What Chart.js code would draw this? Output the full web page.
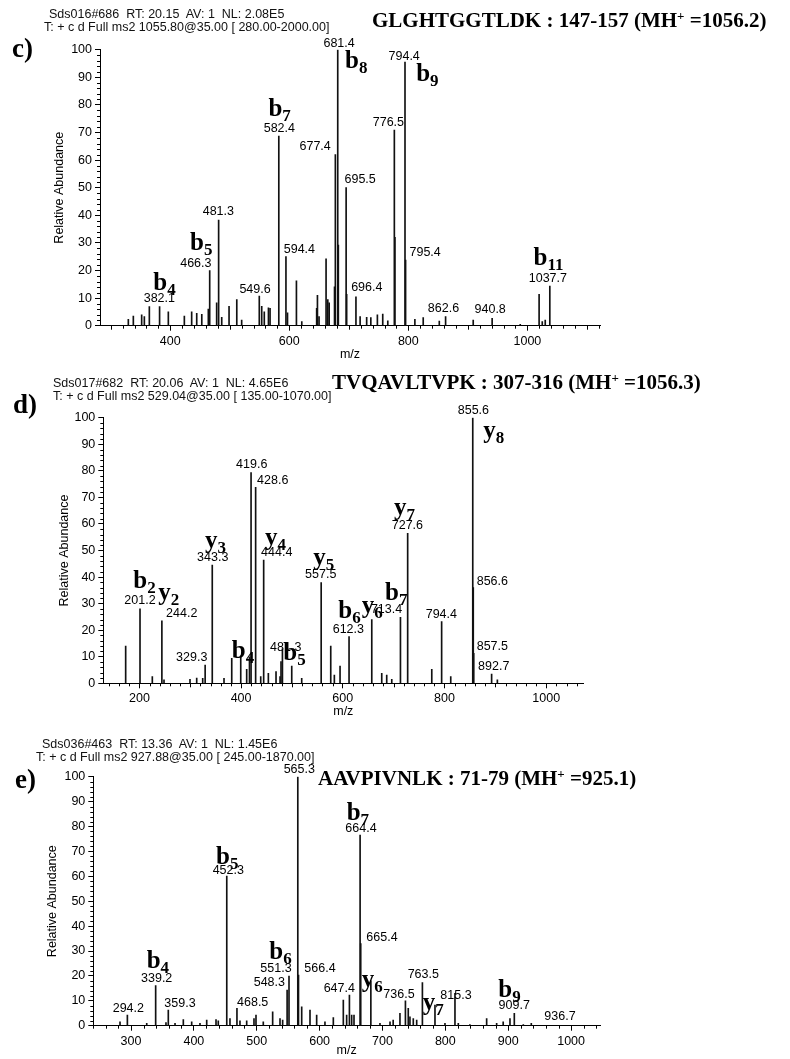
<!DOCTYPE html>
<html>
<head>
<meta charset="utf-8">
<script src="https://cdn.jsdelivr.net/npm/chart.js@4.4.1/dist/chart.umd.min.js"></script>
<style>
body{margin:0;background:#fff;width:790px;height:1059px;position:relative;overflow:hidden}
canvas{position:absolute;left:0}
.t{position:absolute;font-family:"Liberation Sans",Arial,sans-serif;font-size:12.5px;line-height:14px;white-space:pre;color:#111}
.pep{position:absolute;font-family:"Liberation Serif","Times New Roman",serif;font-weight:bold;font-size:21px;line-height:24px;white-space:pre;color:#000}
.pep sup{font-size:13px;vertical-align:7px;line-height:0}
.let{position:absolute;font-family:"Liberation Serif","Times New Roman",serif;font-weight:bold;font-size:27px;line-height:30px}
</style>
</head>
<body>
<canvas id="specC" width="790" height="370" style="top:0px"></canvas>
<canvas id="specD" width="790" height="355" style="top:365px"></canvas>
<canvas id="specE" width="790" height="339" style="top:720px"></canvas>

<div class="t" style="left:49px;top:7px">Sds016#686  RT: 20.15  AV: 1  NL: 2.08E5</div>
<div class="t" style="left:44px;top:20px">T: + c d Full ms2 1055.80@35.00 [ 280.00-2000.00]</div>
<div class="pep" style="left:372px;top:8px">GLGHTGGTLDK : 147-157 (MH<sup>+</sup> =1056.2)</div>
<div class="let" style="left:12px;top:33px">c)</div>

<div class="t" style="left:53px;top:376px">Sds017#682  RT: 20.06  AV: 1  NL: 4.65E6</div>
<div class="t" style="left:53px;top:389px">T: + c d Full ms2 529.04@35.00 [ 135.00-1070.00]</div>
<div class="pep" style="left:332px;top:370px">TVQAVLTVPK : 307-316 (MH<sup>+</sup> =1056.3)</div>
<div class="let" style="left:13px;top:389px">d)</div>

<div class="t" style="left:42px;top:737px">Sds036#463  RT: 13.36  AV: 1  NL: 1.45E6</div>
<div class="t" style="left:36px;top:750px">T: + c d Full ms2 927.88@35.00 [ 245.00-1870.00]</div>
<div class="pep" style="left:318px;top:766px">AAVPIVNLK : 71-79 (MH<sup>+</sup> =925.1)</div>
<div class="let" style="left:15px;top:764px">e)</div>

<script>
// relative abundance axis, shared by the three spectra
const yTicks = [0, 10, 20, 30, 40, 50, 60, 70, 80, 90, 100]

// c) GLGHTGGTLDK
const cMz = [329.6, 338, 352, 356.5, 364.9, 382.1, 396.8, 423.7, 436, 444.5, 453, 464, 466.3, 478, 481.3, 486.5, 498.8, 511.8, 520, 549.6, 553.7, 558, 565, 567.7, 582.4, 594.4, 597, 612, 621, 646, 647.3, 650, 661.8, 664.7, 667, 676, 677.4, 681.4, 682.4, 695.5, 696.4, 712, 719, 730, 737, 748, 757, 765.5, 776.5, 777.5, 794.4, 795.4, 811, 825, 852, 862.6, 909, 940.8, 988, 1019.7, 1025, 1030, 1037.7]
const cInt = [2.3, 3.5, 3.9, 3.3, 6.9, 6.9, 5, 3.5, 5, 4.5, 4.1, 6, 20, 8.3, 38.3, 3, 7, 9.5, 2, 10.7, 7, 5, 6.5, 6.3, 68.7, 25, 4.7, 16.3, 1.5, 6.3, 11, 3.3, 24.2, 9.5, 8.3, 14.1, 62, 100, 29.2, 50, 11.4, 10.5, 3.3, 3, 2.9, 3.9, 4.2, 1.8, 70.9, 32, 95.5, 23.8, 2.3, 2.9, 1.7, 3.3, 2, 2.7, 0.5, 11.4, 1.5, 2, 14.4]
const cTicks = [400, 600, 800, 1000]

// d) TVQAVLTVPK
const dMz = [173, 201.2, 225.4, 244.2, 248.4, 299.5, 312.7, 324.5, 329.3, 343.3, 366.4, 381.6, 399.3, 411, 416.5, 419.6, 428.6, 438.6, 444.4, 453.6, 468.7, 476.6, 478.5, 481.3, 499.6, 519.2, 557.5, 576.3, 583.4, 594.6, 612.3, 657, 676.6, 686.4, 696.3, 713.4, 727.6, 775, 794.4, 812.3, 855.6, 856.6, 857.5, 892.7, 904]
const dInt = [14, 28, 2.5, 23.5, 1.3, 1.5, 2, 1.9, 6.9, 44.5, 1.9, 9.4, 10.3, 5.3, 10, 79.3, 73.8, 2.5, 46.4, 3.8, 4.4, 2.5, 8.2, 13, 6.5, 1.9, 37.9, 14, 3.1, 6.5, 17.6, 24, 3.8, 3.1, 1.5, 24.8, 56.5, 5.3, 23.2, 2.5, 100, 36, 11.3, 3.5, 1.3]
const dTicks = [200, 400, 600, 800, 1000]

// e) AAVPIVNLK
const eMz = [282.5, 294.2, 325, 339.2, 355.6, 359.3, 370, 383.2, 396.5, 409.7, 420.4, 435.2, 438.8, 452.3, 457.4, 468.5, 473.3, 484, 495.6, 498.8, 510.4, 525.3, 537, 541.2, 548.3, 551.3, 565.3, 566.4, 571.5, 584.7, 595.3, 608.5, 621.8, 637.7, 643, 647.4, 651, 654.7, 664.4, 665.4, 681.5, 696, 712, 717, 727.8, 736.5, 741, 743.7, 749, 754.4, 763.5, 783.5, 799.4, 815.3, 820.6, 839, 865.7, 881.6, 892, 902.8, 909.7, 924, 936.7]
const eInt = [1.6, 4.3, 1, 16.1, 1.3, 6.3, 1, 2.5, 1.6, 1, 2.3, 2.5, 2, 60.1, 2.9, 7, 2, 2, 2.9, 4.3, 1.6, 5.6, 2.9, 2.3, 14.3, 19.9, 100, 20.3, 7.6, 6.3, 4.3, 1.6, 3.3, 10.3, 4.3, 12.3, 4.3, 4.3, 76.6, 33, 18, 1, 1.6, 2.3, 5, 10, 7, 3.6, 2.9, 2.3, 17.3, 8.3, 1, 13, 1, 0.5, 2.9, 1, 1.6, 2.9, 5, 0.5, 1]
const eTicks = [300, 400, 500, 600, 700, 800, 900, 1000]

// peak annotations, placed in data units (m/z, abundance)
const cNums = [
    { t: '382.1', x: 381.7, y: 9.7 }, { t: '466.3', x: 443, y: 22.6 }, { t: '481.3', x: 480.8, y: 41.3 },
    { t: '549.6', x: 542.5, y: 13.2 }, { t: '582.4', x: 583.3, y: 71.5 }, { t: '594.4', x: 617, y: 27.7 },
    { t: '677.4', x: 643.4, y: 64.9 }, { t: '681.4', x: 683.7, y: 102.4 }, { t: '695.5', x: 719, y: 52.8 },
    { t: '696.4', x: 730.2, y: 13.8 }, { t: '776.5', x: 766.5, y: 73.7 }, { t: '794.4', x: 793, y: 97.4 },
    { t: '795.4', x: 828.2, y: 26.4 }, { t: '862.6', x: 859, y: 6.3 }, { t: '940.8', x: 937.5, y: 5.7 },
    { t: '1037.7', x: 1034.4, y: 17.2 }
]
const cIons = [
    { ion: 'b', n: '4', x: 371.6, y: 12.9 }, { ion: 'b', n: '5', x: 433.3, y: 27.4 },
    { ion: 'b', n: '7', x: 564.9, y: 76 }, { ion: 'b', n: '8', x: 693.8, y: 93.3 },
    { ion: 'b', n: '9', x: 813.1, y: 88.8 }, { ion: 'b', n: '11', x: 1010.3, y: 22 }
]
const dNums = [
    { t: '201.2', x: 201.2, y: 31.1 }, { t: '244.2', x: 283.2, y: 26.1 }, { t: '329.3', x: 302.9, y: 9.8 },
    { t: '343.3', x: 344.2, y: 47.3 }, { t: '419.6', x: 420.9, y: 82.2 }, { t: '428.6', x: 462.2, y: 76.5 },
    { t: '444.4', x: 470, y: 49.3 }, { t: '481.3', x: 487.8, y: 13.6 }, { t: '557.5', x: 556.6, y: 40.8 },
    { t: '612.3', x: 610.9, y: 20.3 }, { t: '713.4', x: 686, y: 27.6 }, { t: '727.6', x: 727, y: 59.3 },
    { t: '794.4', x: 793.8, y: 25.7 }, { t: '855.6', x: 856.8, y: 102.6 }, { t: '856.6', x: 894.1, y: 38.3 },
    { t: '857.5', x: 894.1, y: 13.8 }, { t: '892.7', x: 896.9, y: 6.3 }
]
const dIons = [
    { ion: 'b', n: '2', x: 188, y: 35.8 }, { ion: 'y', n: '2', x: 237.2, y: 31.4 },
    { ion: 'y', n: '3', x: 329, y: 50.8 }, { ion: 'b', n: '4', x: 381.6, y: 9.4 },
    { ion: 'y', n: '4', x: 447, y: 52.1 }, { ion: 'b', n: '5', x: 483, y: 8.8 },
    { ion: 'y', n: '5', x: 542, y: 44.5 }, { ion: 'b', n: '6', x: 591.2, y: 24.5 },
    { ion: 'y', n: '6', x: 637.3, y: 26.4 }, { ion: 'b', n: '7', x: 683, y: 31.4 },
    { ion: 'y', n: '7', x: 700.8, y: 63.4 }, { ion: 'y', n: '8', x: 876.4, y: 92.2 }
]
const eNums = [
    { t: '294.2', x: 295.7, y: 7 }, { t: '339.2', x: 340.8, y: 18.8 }, { t: '359.3', x: 377.9, y: 9 },
    { t: '452.3', x: 454.7, y: 62.5 }, { t: '468.5', x: 493.5, y: 9.4 }, { t: '548.3', x: 520, y: 17.3 },
    { t: '551.3', x: 530.6, y: 22.8 }, { t: '565.3', x: 567.7, y: 102.7 }, { t: '566.4', x: 600.6, y: 23 },
    { t: '647.4', x: 631.3, y: 15 }, { t: '664.4', x: 665.8, y: 79.3 }, { t: '665.4', x: 699.2, y: 35.3 },
    { t: '736.5', x: 726.2, y: 12.6 }, { t: '763.5', x: 764.9, y: 20.4 }, { t: '815.3', x: 816.9, y: 12.3 },
    { t: '909.7', x: 909.6, y: 7.9 }, { t: '936.7', x: 982.3, y: 3.6 }
]
const eIons = [
    { ion: 'b', n: '4', x: 324.9, y: 23 }, { ion: 'b', n: '5', x: 435.2, y: 64.9 },
    { ion: 'b', n: '6', x: 520, y: 26.7 }, { ion: 'b', n: '7', x: 643, y: 82.6 },
    { ion: 'y', n: '6', x: 667, y: 15.7 }, { ion: 'y', n: '7', x: 764, y: 6.3 },
    { ion: 'b', n: '9', x: 884.2, y: 11.6 }
]

Chart.defaults.font.family = '"Liberation Sans", Arial, sans-serif'
Chart.defaults.color = '#000'

// minor ticks + peak/ion labels
function decor(nums, ions, major) {
    return {
        id: 'decor',
        afterDraw(chart) {
            const { ctx } = chart
            const x = chart.scales.x, y = chart.scales.y
            ctx.save()
            ctx.strokeStyle = '#000'
            ctx.lineWidth = 1
            ctx.beginPath()
            for (let v = 2; v < 100; v += 2) {
                if (v % 10 === 0) continue
                const py = Math.round(y.getPixelForValue(v)) + 0.5
                ctx.moveTo(x.left - 3, py); ctx.lineTo(x.left, py)
            }
            for (let v = Math.ceil(x.min / 20) * 20; v <= x.max; v += 20) {
                if (major.includes(v)) continue
                const px = Math.round(x.getPixelForValue(v)) + 0.5
                ctx.moveTo(px, y.bottom); ctx.lineTo(px, y.bottom + (v % 100 === 0 ? 4 : 3))
            }
            ctx.stroke()

            ctx.fillStyle = '#000'
            ctx.font = '12.5px "Liberation Sans", Arial, sans-serif'
            ctx.textAlign = 'center'
            ctx.textBaseline = 'middle'
            nums.forEach(l => ctx.fillText(l.t, x.getPixelForValue(l.x), y.getPixelForValue(l.y)))

            ctx.textAlign = 'left'
            ctx.textBaseline = 'alphabetic'
            ions.forEach(l => {
                const px = x.getPixelForValue(l.x), py = y.getPixelForValue(l.y)
                ctx.font = 'bold 25px "Liberation Serif", serif'
                ctx.fillText(l.ion, px, py)
                const w = ctx.measureText(l.ion).width
                ctx.font = 'bold 17px "Liberation Serif", serif'
                ctx.fillText(l.n, px + w, py + 5)
            })
            ctx.restore()
        }
    }
}

function spectrum(id, mz, inten, ticks, nums, ions, lay) {
    new Chart(document.getElementById(id), {
        type: 'bar',
        data: {
            datasets: [{
                data: mz.map((m, i) => ({ x: m, y: inten[i] })),
                backgroundColor: '#111',
                borderWidth: 0,
                barThickness: 1
            }]
        },
        options: {
            responsive: false,
            animation: false,
            layout: { padding: lay.pad },
            plugins: { legend: { display: false }, tooltip: { enabled: false } },
            scales: {
                x: {
                    type: 'linear',
                    min: lay.min,
                    max: lay.max,
                    offset: false,
                    afterBuildTicks: s => { s.ticks = ticks.map(v => ({ value: v })) },
                    afterFit: s => { s.height = lay.xh },
                    ticks: { autoSkip: false, maxRotation: 0, padding: 3, font: { size: 12.5 }, callback: v => String(v) },
                    grid: { drawOnChartArea: false, offset: false, tickLength: 5, color: '#000' },
                    border: { color: '#000', width: 1 },
                    title: { display: true, text: 'm/z', padding: 0, font: { size: 12.5 } }
                },
                y: {
                    min: 0,
                    max: 100,
                    afterBuildTicks: s => { s.ticks = yTicks.map(v => ({ value: v })) },
                    afterFit: s => { s.width = lay.yw },
                    ticks: { padding: 3, font: { size: 12.5 }, callback: v => String(v) },
                    grid: { drawOnChartArea: false, tickLength: 5, color: '#000' },
                    border: { color: '#000', width: 1 },
                    title: { display: true, text: 'Relative Abundance', padding: 0, font: { size: 12.5 } }
                }
            }
        },
        plugins: [decor(nums, ions, ticks)]
    })
}

spectrum('specC', cMz, cInt, cTicks, cNums, cIons,
    { pad: { left: 52.5, right: 190, top: 49.7, bottom: 7.5 }, yw: 47.5, xh: 36.8, min: 282, max: 1122 })
spectrum('specD', dMz, dInt, dTicks, dNums, dIons,
    { pad: { left: 57.5, right: 206.7, top: 52.7, bottom: 0.5 }, yw: 45.8, xh: 36.2, min: 129, max: 1073 })
spectrum('specE', eMz, eInt, eTicks, eNums, eIons,
    { pad: { left: 45.5, right: 190, top: 56.7, bottom: 0.5 }, yw: 47.8, xh: 32.8, min: 240, max: 1046 })
</script>
</body>
</html>
